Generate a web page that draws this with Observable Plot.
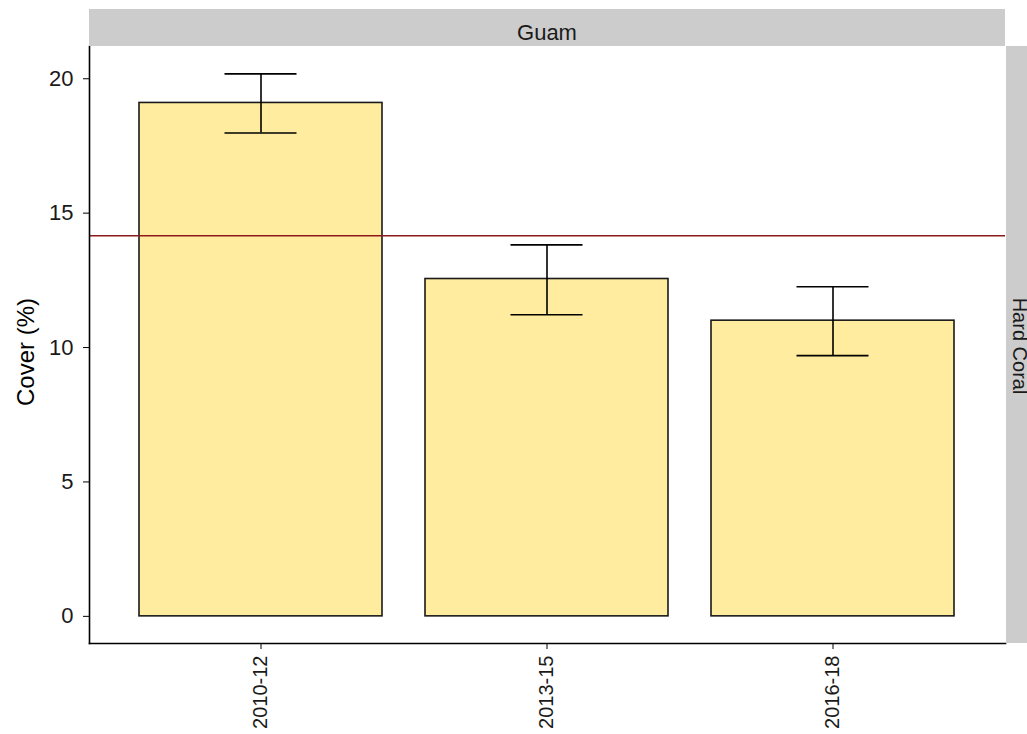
<!DOCTYPE html>
<html><head><meta charset="utf-8">
<script src="https://cdn.jsdelivr.net/npm/d3@7"></script>
<script src="https://cdn.jsdelivr.net/npm/@observablehq/plot@0.6"></script>
<style>body{margin:0;background:#fff;font-family:"Liberation Sans",Arial,sans-serif}</style>
</head><body><div id="chart"></div>
<script>
const periods = ["2010-12", "2013-15", "2016-18"];
const cover = [19.1, 12.55, 11.0];
const lower = [17.98, 11.22, 9.7];
const upper = [20.18, 13.82, 12.26];
const reference = 14.16;
const yTicks = [0, 5, 10, 15, 20];
const region = "Guam";
const group = "Hard Coral";

const data = periods.map((p, i) => ({period: p, cover: cover[i], lo: lower[i], hi: upper[i]}));

const chart = Plot.plot({
  width: 1027, height: 734,
  marginLeft: 89, marginRight: 22, marginTop: 46, marginBottom: 91,
  style: {fontFamily: "Liberation Sans, Arial, sans-serif", color: "#1a1a1a", background: "#fff"},
  x: {domain: periods, paddingInner: 0.15, paddingOuter: 0.175, label: null},
  y: {domain: [-1.01, 21.2], label: null},
  marks: [
    Plot.barY(data, {x: "period", y1: 0, y2: "cover", fill: "#FFEC9E", stroke: "#1a1a1a", strokeWidth: 1.6}),
    Plot.ruleX(data, {x: "period", y1: "lo", y2: "hi", stroke: "#000", strokeWidth: 1.6}),
    Plot.tickY(data, {x: "period", y: "lo", stroke: "#000", strokeWidth: 1.6, insetLeft: 85.5, insetRight: 85.5}),
    Plot.tickY(data, {x: "period", y: "hi", stroke: "#000", strokeWidth: 1.6, insetLeft: 85.5, insetRight: 85.5}),
    Plot.ruleY([reference], {stroke: "#8B1A1A", strokeWidth: 1.4}),
    Plot.axisY({ticks: yTicks, tickSize: 6, tickPadding: 10, fontSize: 22, label: null, stroke: "#000"}),
    Plot.axisX({tickSize: 6, tickPadding: 6, tickRotate: -90, fontSize: 20, label: null, stroke: "#000"}),
    Plot.frame({anchor: "left", stroke: "#000", strokeWidth: 1.6}),
    Plot.frame({anchor: "bottom", stroke: "#000", strokeWidth: 1.6})
  ]
});
document.getElementById("chart").appendChild(chart);

const svg = d3.select(chart);
const pLeft = 89, pRight = 1005, pTop = 46, pBottom = 643;
const strips = svg.append("g");
strips.append("rect").attr("x", pLeft).attr("y", 9).attr("width", pRight - pLeft).attr("height", pTop - 9).attr("fill", "#CCCCCC");
strips.append("text").attr("x", (pLeft + pRight) / 2).attr("y", 40).attr("text-anchor", "middle")
  .attr("font-size", 22).attr("fill", "#1a1a1a").text(region);
strips.append("rect").attr("x", pRight + 1).attr("y", pTop).attr("width", 40).attr("height", pBottom - pTop).attr("fill", "#CCCCCC");
strips.append("text").attr("transform", `translate(1013,346) rotate(90)`)
  .attr("text-anchor", "middle").attr("font-size", 20).attr("fill", "#1a1a1a").text(group);
svg.append("text").attr("transform", `translate(34,352) rotate(-90)`)
  .attr("text-anchor", "middle").attr("font-size", 24).attr("fill", "#000").text("Cover (%)");
</script></body></html>
